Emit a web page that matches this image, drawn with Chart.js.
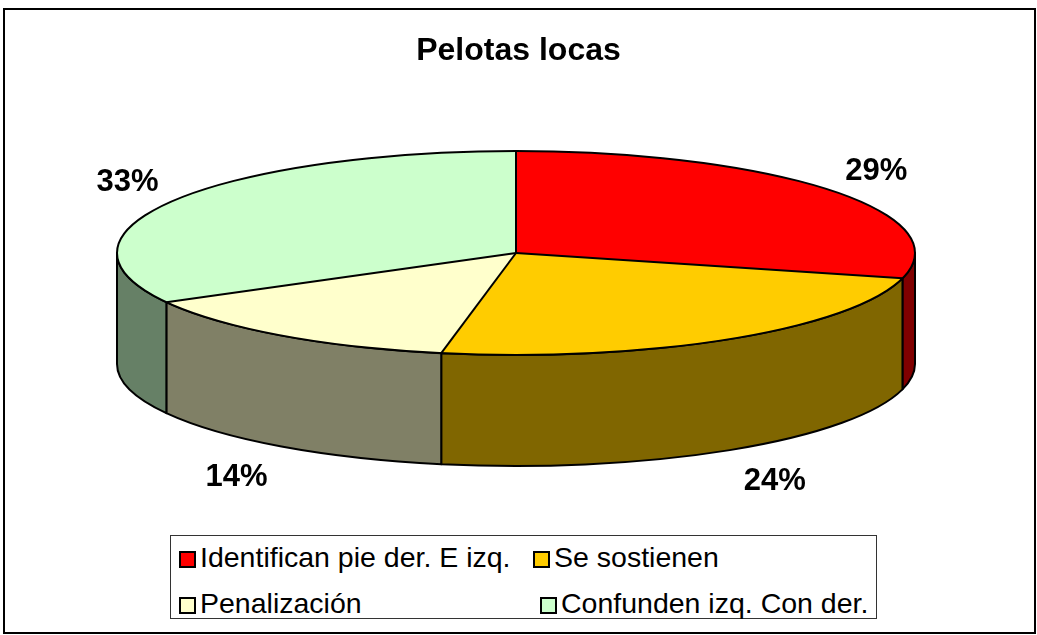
<!DOCTYPE html>
<html>
<head>
<meta charset="utf-8">
<script src="https://cdn.jsdelivr.net/npm/chart.js@4.4.1/dist/chart.umd.min.js"></script>
<style>
  html, body { margin: 0; padding: 0; background: #fff; }
  #wrap { position: relative; width: 1037px; height: 635px; overflow: hidden; font-family: "Liberation Sans", Arial, sans-serif; }
  #frame { position: absolute; left: 3px; top: 8px; width: 1029px; height: 622px; border: 2px solid #000; }
  #chart { position: absolute; left: 0; top: 0; }
  #legend { position: absolute; left: 170px; top: 535px; width: 705px; height: 82px; border: 1px solid #333; background: #fff; }
  .item { position: absolute; font-size: 28.5px; line-height: 30px; color: #000; white-space: nowrap; }
  .item .sw { display: inline-block; width: 13px; height: 13px; border: 2px solid #000; vertical-align: -1px; margin-right: 4px; }
</style>
</head>
<body>
<div id="wrap">
  <div id="frame"></div>
  <canvas id="chart" width="1037" height="635"></canvas>
  <div id="legend"></div>
</div>
<script>
// Pelotas locas - 3D pie look on top of a Chart.js pie

const labels = ['Identifican pie der. E izq.', 'Se sostienen', 'Penalización', 'Confunden izq. Con der.'];
const values = [29, 24, 14, 33];
const topColors = ['#FF0000', '#FFCC00', '#FFFFCC', '#CCFFCC'];
const sideColors = ['#800000', '#806600', '#808066', '#668066'];

// ellipse geometry on the page
const CX = 516, CY = 253, RX = 399, RY = 102, DEPTH = 111;

function pt(a, dy) {
  return [CX + RX * Math.cos(a), CY + RY * Math.sin(a) + (dy || 0)];
}

const pie3d = {
  id: 'pie3d',
  beforeDatasetsDraw(chart) {
    const ctx = chart.ctx;
    const arcs = chart.getDatasetMeta(0).data;
    // side walls (front half only: canvas angles 0..PI)
    ctx.save();
    ctx.lineWidth = 2;
    ctx.strokeStyle = '#000';
    ctx.lineJoin = 'round';
    arcs.forEach((arc, i) => {
      [0, 2 * Math.PI].forEach(off => {
        const a0 = Math.max(arc.startAngle, off);
        const a1 = Math.min(arc.endAngle, off + Math.PI);
        if (a1 <= a0) return;
        ctx.beginPath();
        ctx.ellipse(CX, CY, RX, RY, 0, a0, a1);
        ctx.ellipse(CX, CY + DEPTH, RX, RY, 0, a1, a0, true);
        ctx.closePath();
        ctx.fillStyle = sideColors[i];
        ctx.fill();
        ctx.stroke();
      });
    });
    ctx.restore();

    // squash the library's circle into the ellipse
    const a = arcs[0];
    const R = a.outerRadius;
    ctx.save();
    ctx.translate(CX, CY);
    ctx.scale(RX / R, RY / R);
    ctx.translate(-a.x, -a.y);
  },
  afterDatasetsDraw(chart) {
    const ctx = chart.ctx;
    ctx.restore();
    const arcs = chart.getDatasetMeta(0).data;
    ctx.save();
    ctx.lineWidth = 2;
    ctx.strokeStyle = '#000';
    ctx.beginPath();
    ctx.ellipse(CX, CY, RX, RY, 0, 0, 2 * Math.PI);
    ctx.stroke();
    arcs.forEach(arc => {
      const p = pt(arc.startAngle);
      ctx.beginPath();
      ctx.moveTo(CX, CY);
      ctx.lineTo(p[0], p[1]);
      ctx.stroke();
    });

    // percentage labels, outside the edge of each slice
    const total = values.reduce((s, v) => s + v, 0);
    ctx.fillStyle = '#000';
    ctx.font = 'bold 31px "Liberation Sans", Arial, sans-serif';
    ctx.textAlign = 'center';
    ctx.textBaseline = 'middle';
    arcs.forEach((arc, i) => {
      const mid = (arc.startAngle + arc.endAngle) / 2;
      const c = Math.cos(mid), s = Math.sin(mid);
      const x = CX + RX * c + 45 * Math.sign(c);
      const y = CY + RY * s + (s > 0 ? DEPTH + 31 : -19);
      ctx.fillText(Math.round(values[i] / total * 100) + '%', x, y);
    });
    ctx.restore();
  }
};

new Chart(document.getElementById('chart'), {
  type: 'pie',
  data: {
    labels: labels,
    datasets: [{
      data: values,
      backgroundColor: topColors,
      borderWidth: 0,
      clip: false
    }]
  },
  options: {
    responsive: false,
    animation: false,
    devicePixelRatio: 1,
    layout: { padding: { left: 100, right: 100, top: 0, bottom: 150 } },
    plugins: {
      legend: { display: false },
      tooltip: { enabled: false },
      title: {
        display: true,
        text: 'Pelotas locas',
        color: '#000',
        font: { family: '"Liberation Sans", Arial, sans-serif', size: 32, weight: 'bold' },
        padding: { top: 32, bottom: 10 }
      }
    }
  },
  plugins: [pie3d]
});

// legend box, two columns like the original
const legendPos = [[8, 6], [362, 6], [8, 52], [369, 52]];
const legend = document.getElementById('legend');
labels.forEach((lab, i) => {
  const d = document.createElement('div');
  d.className = 'item';
  d.style.left = legendPos[i][0] + 'px';
  d.style.top = legendPos[i][1] + 'px';
  d.innerHTML = '<span class="sw" style="background:' + topColors[i] + '"></span>' + lab;
  legend.appendChild(d);
});
</script>
</body>
</html>
